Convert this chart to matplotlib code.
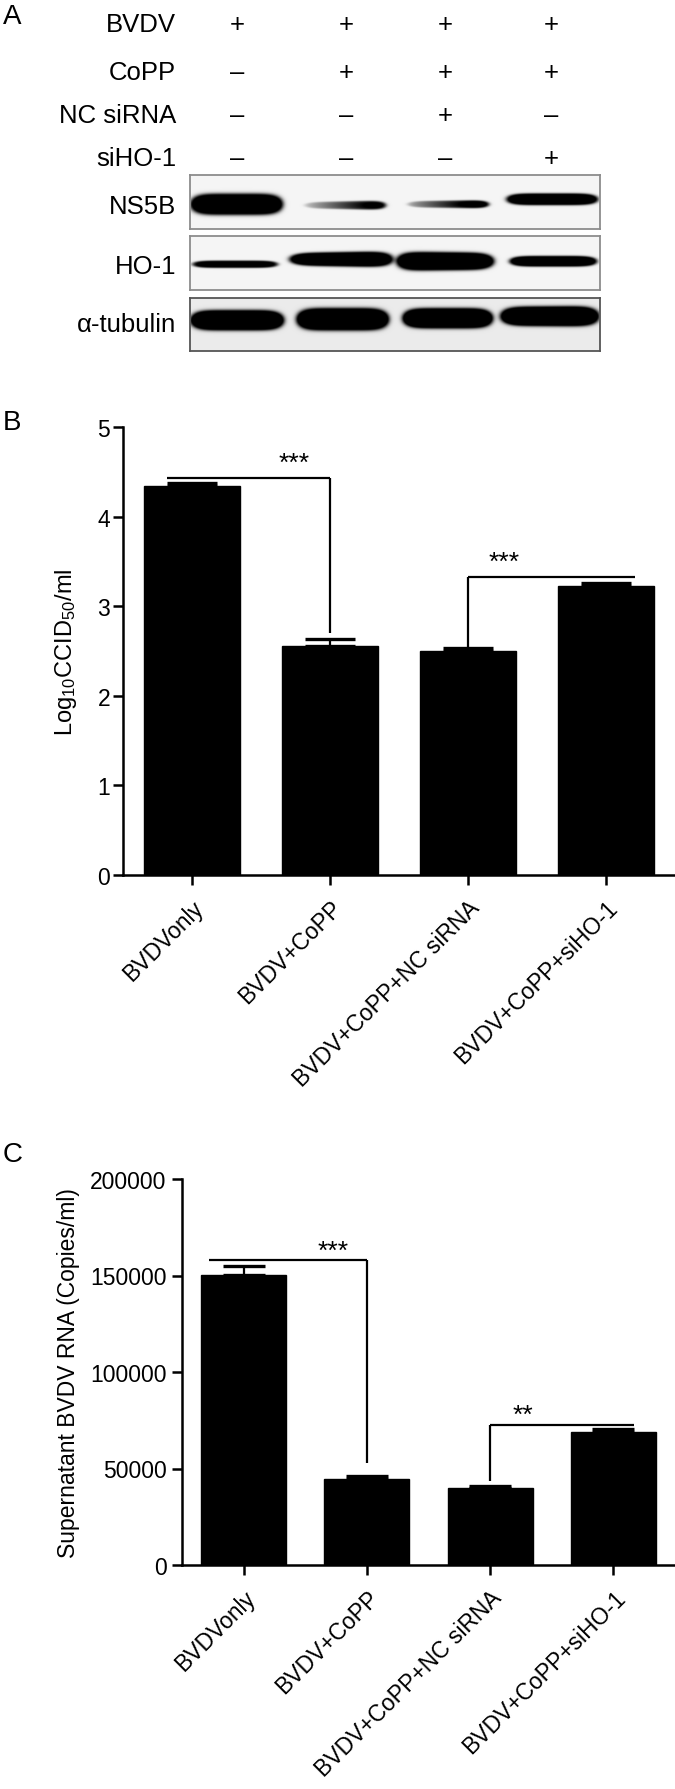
import numpy as np
import matplotlib
matplotlib.use("Agg")
import matplotlib.pyplot as plt

plt.rcParams['font.family'] = ['Liberation Sans', 'DejaVu Sans']
plt.rcParams['mathtext.fontset'] = 'custom'
plt.rcParams['mathtext.rm'] = 'Liberation Sans'
plt.rcParams['mathtext.default'] = 'regular'

W, H = 675, 1790

# ---- data ----
groups = ["BVDVonly", "BVDV+CoPP", "BVDV+CoPP+NC siRNA", "BVDV+CoPP+siHO-1"]

# panel A: treatment table
conditions = ["BVDV", "CoPP", "NC siRNA", "siHO-1"]
treatment = [[1, 1, 1, 1],
             [0, 1, 1, 1],
             [0, 0, 1, 0],
             [0, 0, 0, 1]]
proteins = ["NS5B", "HO-1", "α-tubulin"]

# blot bands per protein (lanes 1-4): left/right edge, centre row, thickness, darkness at left/right end
ns5b_left = [191, 305, 408, 507]
ns5b_right = [282, 385, 488, 597]
ns5b_mid = [205, 206, 205, 200]
ns5b_thick = [[20, 20], [6, 9], [6, 8], [11, 11]]
ns5b_dark = [[1.6, 1.6], [0.25, 1.3], [0.35, 1.4], [1.5, 1.5]]

ho1_left = [193, 290, 397, 510]
ho1_right = [277, 392, 493, 596]
ho1_mid = [265, 260, 262, 262]
ho1_thick = [[7, 7], [12, 15], [18, 16], [10, 10]]
ho1_dark = [[1.2, 1.2], [1.5, 1.6], [1.7, 1.7], [1.5, 1.5]]

tub_left = [191, 297, 403, 501]
tub_right = [283, 388, 492, 598]
tub_mid = [321, 320, 319, 317]
tub_thick = [[19, 19], [21, 21], [19, 19], [18, 19]]
tub_dark = [[1.8, 1.8], [1.8, 1.8], [1.8, 1.8], [1.8, 1.8]]

# panel B: virus titre
titre = [4.34, 2.56, 2.50, 3.22]
titre_err = [0.03, 0.07, 0.03, 0.04]
titre_ticks = [0, 1, 2, 3, 4, 5]

# panel C: viral RNA copies
rna = [150500, 44800, 40000, 69000]
rna_err = [4500, 1500, 700, 1500]
rna_ticks = [0, 50000, 100000, 150000, 200000]


def rect(x0, y0, x1, y1):
    return [x0 / W, 1 - y1 / H, (x1 - x0) / W, (y1 - y0) / H]


def fy(y):
    return 1 - y / H


fig = plt.figure(figsize=(W / 100, H / 100), dpi=100)

# ---------------- panel A ----------------
fig.text(3 / W, fy(17), "A", fontsize=20, ha='left', va='center')
lane_x = [237, 346, 445, 551]
row_y = [25, 73, 116, 159]
for name, row, y in zip(conditions, treatment, row_y):
    fig.text(176 / W, fy(y), name, fontsize=18.5, ha='right', va='center')
    for x, v in zip(lane_x, row):
        fig.text(x / W, fy(y), "+" if v else "–", fontsize=18.5, ha='center', va='center')


def blot(box, left, right, mid, thick, dark, bg, edge):
    x0, y0, x1, y1 = box
    ax = fig.add_axes(rect(x0, y0, x1, y1))
    xs = np.arange(x0, x1, 0.5)
    ys = np.arange(y0, y1, 0.5)
    X, Y = np.meshgrid(xs, ys)
    inten = np.zeros_like(X)
    for L, R, c, t, d in zip(left, right, mid, thick, dark):
        u = (X - L) / (R - L)
        uc = np.clip(u, 0, 1)
        h = (t[0] + (t[1] - t[0]) * uc) / 2
        dk = d[0] + (d[1] - d[0]) * uc
        r = np.abs(2 * u - 1) ** 6 + ((Y - c) / h) ** 2
        inten += dk / (1 + np.exp(-(1 - r) / 0.25))
    img = bg * (1 - np.clip(inten, 0, 1))
    ax.imshow(img, cmap='gray', vmin=0, vmax=1, extent=[x0, x1, y1, y0],
              interpolation='bilinear', aspect='auto')
    ax.set_xticks([])
    ax.set_yticks([])
    for s in ax.spines.values():
        s.set_edgecolor(edge)
        s.set_linewidth(1.3)
    return ax


blot((190, 176, 600, 230), ns5b_left, ns5b_right, ns5b_mid, ns5b_thick, ns5b_dark, 0.96, '#8c8c8c')
blot((190, 237, 600, 291), ho1_left, ho1_right, ho1_mid, ho1_thick, ho1_dark, 0.96, '#8c8c8c')
blot((190, 299, 600, 352), tub_left, tub_right, tub_mid, tub_thick, tub_dark, 0.92, '#555555')

for name, y in zip(proteins, [207, 267, 325]):
    fig.text(176 / W, fy(y), name, fontsize=18.5, ha='right', va='center')


# ---------------- bar panels ----------------
def style(ax, ticks, labels, pad):
    for s in ['top', 'right']:
        ax.spines[s].set_visible(False)
    for s in ['left', 'bottom']:
        ax.spines[s].set_linewidth(1.8)
    ax.set_xlim(-0.5, 3.5)
    ax.set_yticks(ticks)
    ax.set_yticklabels(labels)
    ax.tick_params(axis='both', width=1.8, length=7.2, labelsize=16.5, direction='out')
    ax.tick_params(axis='y', pad=pad)
    ax.set_xticks(range(len(groups)))
    ax.set_xticklabels(groups, rotation=45, ha='right', va='top', rotation_mode='anchor')
    ax.tick_params(axis='x', pad=8)


def bracket(ax, x0, x1, y, ydrop, xdrop, stars, xs, ys):
    kw = dict(color='black', lw=1.6, clip_on=False, solid_capstyle='butt')
    ax.plot([x0, x1], [y, y], **kw)
    ax.plot([xdrop, xdrop], [y, ydrop], **kw)
    ax.text(xs, ys, stars, fontsize=19, ha='center', va='center')


x = np.arange(len(groups))

# panel B
fig.text(3 / W, fy(423), "B", fontsize=20, ha='left', va='center')
axb = fig.add_axes(rect(123, 428, 675, 876))
axb.bar(x, titre, width=0.69, color='black', edgecolor='black', zorder=2)
axb.errorbar(x, titre, yerr=[np.zeros(4), titre_err], fmt='none', ecolor='black',
             elinewidth=1.6, capsize=18, capthick=2.4, zorder=3)
axb.set_ylim(0, 5)
style(axb, titre_ticks, [str(t) for t in titre_ticks], 2)
axb.set_ylabel("Log$_{10}$CCID$_{50}$/ml", fontsize=17)
axb.yaxis.set_label_coords(-44 / 552, 0.5)
bracket(axb, -0.18, 1.0, 4.43, 2.70, 1.0, "***", 0.74, 4.60)
bracket(axb, 2.0, 3.21, 3.33, 2.53, 2.0, "***", 2.26, 3.50)

# panel C
fig.text(3 / W, fy(1155), "C", fontsize=20, ha='left', va='center')
axc = fig.add_axes(rect(182, 1180, 675, 1566))
axc.bar(x, rna, width=0.69, color='black', edgecolor='black', zorder=2)
axc.errorbar(x, rna, yerr=[np.zeros(4), rna_err], fmt='none', ecolor='black',
             elinewidth=1.6, capsize=15, capthick=2.4, zorder=3)
axc.set_ylim(0, 200000)
style(axc, rna_ticks, [str(t) for t in rna_ticks], 4)
axc.set_ylabel("Supernatant BVDV RNA (Copies/ml)", fontsize=16.5)
axc.yaxis.set_label_coords(-102 / 493, 0.5)
bracket(axc, -0.28, 1.0, 158000, 52800, 1.0, "***", 0.73, 162700)
bracket(axc, 2.0, 3.17, 72500, 43500, 2.0, "**", 2.27, 77700)

fig.savefig("out.png", dpi=100, facecolor='white')
